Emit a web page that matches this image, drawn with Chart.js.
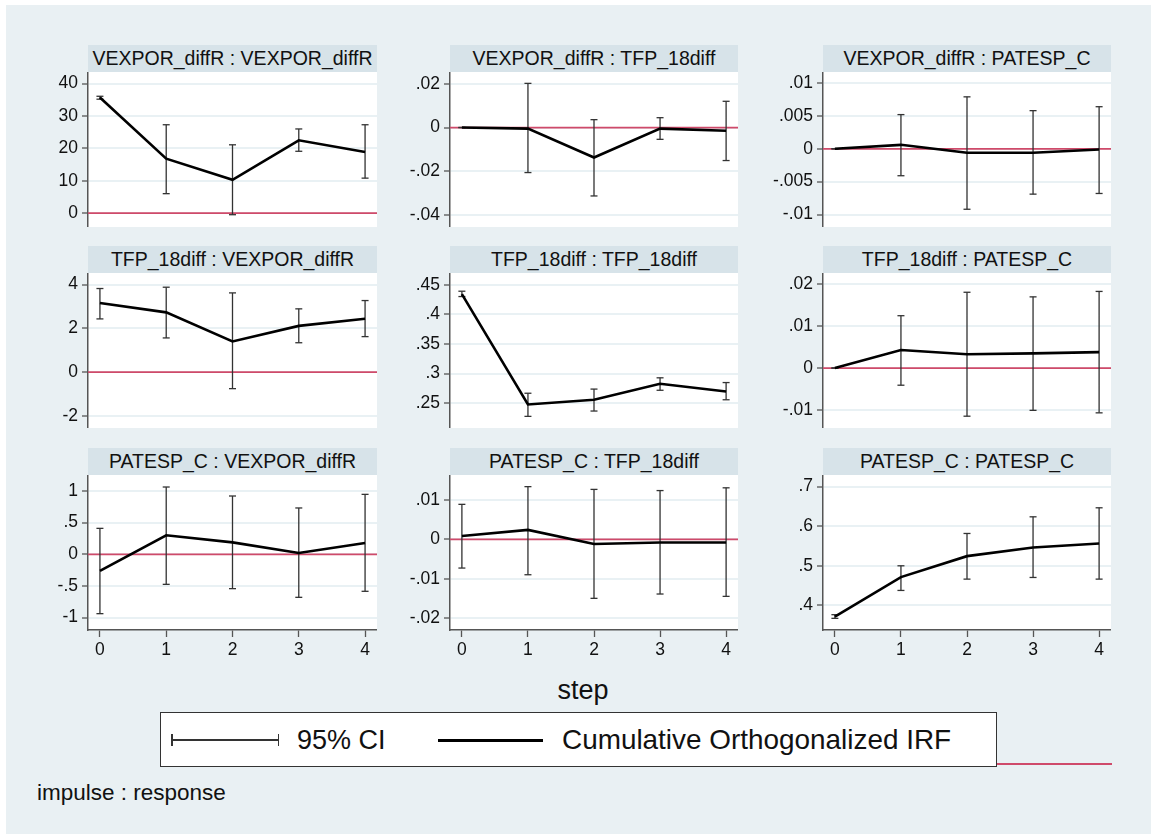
<!DOCTYPE html>
<html>
<head>
<meta charset="utf-8">
<script src="https://cdn.jsdelivr.net/npm/chart.js@4.4.1/dist/chart.umd.min.js"></script>
<style>
  html, body { margin: 0; padding: 0; }
  body {
    width: 1151px; height: 834px; position: relative; overflow: hidden;
    background: #e9f0f3;
    font-family: "Liberation Sans", Arial, Helvetica, sans-serif;
    color: #111;
  }
  .abs { position: absolute; }
  .strip-top { left: 0; top: 0; width: 1151px; height: 5px; background: #fff; }
  .strip-left { left: 0; top: 0; width: 6px; height: 834px; background: #fff; }
  .hdr {
    background: #d7e3e9; text-align: center; white-space: nowrap;
    font-size: 19.5px; height: 27px; line-height: 27px; color: #111;
  }
  canvas { position: absolute; }
  .xtitle { font-size: 27px; text-align: center; line-height: 30px; }
  .legend {
    background: #fff; border: 1px solid #333; box-sizing: border-box;
  }
  .leg-text { font-size: 27px; line-height: 30px; white-space: nowrap; }
  .note { font-size: 22.5px; line-height: 24px; white-space: nowrap; }
</style>
</head>
<body>
<div class="abs strip-top"></div>
<div class="abs strip-left"></div>
<div id="fig"></div>

<div class="abs xtitle" style="left:483px; top:675px; width:200px;">step</div>

<div class="abs legend" style="left:160px; top:712px; width:837px; height:55px;"></div>
<!-- CI key: capped horizontal bar -->
<div class="abs" style="left:171px; top:739px; width:108px; height:1.5px; background:#333;"></div>
<div class="abs" style="left:171px; top:734px; width:1.5px; height:12px; background:#333;"></div>
<div class="abs" style="left:277.5px; top:734px; width:1.5px; height:12px; background:#333;"></div>
<div class="abs leg-text" style="left:297px; top:725px;">95% CI</div>
<!-- IRF key: thick line -->
<div class="abs" style="left:438px; top:738.5px; width:105px; height:3px; background:#000;"></div>
<div class="abs leg-text" style="left:562px; top:725px; font-size:27.9px;">Cumulative Orthogonalized IRF</div>
<!-- zero-line key peeking out from behind the legend box -->
<div class="abs" style="left:997px; top:763px; width:115px; height:2px; background:#cf4a6a;"></div>

<div class="abs note" style="left:37px; top:781px;">impulse : response</div>

<script>
// Forecast horizon
const steps = [0, 1, 2, 3, 4];

// VEXPOR_diffR : VEXPOR_diffR
const irf_vv = [35.7, 16.8, 10.3, 22.5, 18.9];
const lo_vv  = [35.2, 6.0, -0.5, 19.1, 10.8];
const hi_vv  = [36.1, 27.3, 21.1, 26.0, 27.3];
const ticks_vv = ['0', '10', '20', '30', '40'];

// VEXPOR_diffR : TFP_18diff
const irf_vt = [0, -0.0005, -0.0137, -0.0005, -0.0015];
const lo_vt  = [0, -0.0206, -0.0313, -0.0054, -0.0151];
const hi_vt  = [0, 0.0202, 0.0036, 0.0045, 0.0120];
const ticks_vt = ['-.04', '-.02', '0', '.02'];

// VEXPOR_diffR : PATESP_C
const irf_vp = [0, 0.0006, -0.0006, -0.0006, -0.0001];
const lo_vp  = [0, -0.0041, -0.0092, -0.0069, -0.0068];
const hi_vp  = [0, 0.0052, 0.0079, 0.0058, 0.0064];
const ticks_vp = ['-.01', '-.005', '0', '.005', '.01'];

// TFP_18diff : VEXPOR_diffR
const irf_tv = [3.16, 2.73, 1.40, 2.11, 2.44];
const lo_tv  = [2.43, 1.56, -0.76, 1.34, 1.62];
const hi_tv  = [3.82, 3.88, 3.62, 2.89, 3.27];
const ticks_tv = ['-2', '0', '2', '4'];

// TFP_18diff : TFP_18diff
const irf_tt = [0.434, 0.248, 0.256, 0.283, 0.270];
const lo_tt  = [0.430, 0.228, 0.237, 0.272, 0.256];
const hi_tt  = [0.439, 0.267, 0.274, 0.293, 0.285];
const ticks_tt = ['.25', '.3', '.35', '.4', '.45'];

// TFP_18diff : PATESP_C
const irf_tp = [0, 0.0043, 0.0033, 0.0035, 0.0038];
const lo_tp  = [0, -0.0041, -0.0115, -0.0101, -0.0107];
const hi_tp  = [0, 0.0125, 0.0181, 0.0170, 0.0183];
const ticks_tp = ['-.01', '0', '.01', '.02'];

// PATESP_C : VEXPOR_diffR
const irf_pv = [-0.263, 0.300, 0.189, 0.021, 0.179];
const lo_pv  = [-0.937, -0.474, -0.542, -0.679, -0.584];
const hi_pv  = [0.410, 1.063, 0.921, 0.732, 0.947];
const ticks_pv = ['-1', '-.5', '0', '.5', '1'];

// PATESP_C : TFP_18diff
const irf_pt = [0.00085, 0.0024, -0.0012, -0.0008, -0.0008];
const lo_pt  = [-0.0073, -0.0090, -0.0150, -0.0139, -0.0145];
const hi_pt  = [0.0089, 0.0134, 0.0127, 0.0124, 0.0131];
const ticks_pt = ['-.02', '-.01', '0', '.01'];

// PATESP_C : PATESP_C
const irf_pp = [0.3714, 0.4714, 0.5244, 0.5463, 0.5564];
const lo_pp  = [0.3672, 0.4377, 0.4663, 0.4705, 0.4663];
const hi_pp  = [0.3764, 0.5000, 0.5817, 0.6238, 0.6466];
const ticks_pp = ['.4', '.5', '.6', '.7'];

// Panel grid, row by row (impulse : response)
const panels = [
  { title: 'VEXPOR_diffR : VEXPOR_diffR', irf: irf_vv, lo: lo_vv, hi: hi_vv, ticks: ticks_vv, ymin: -4.3,    ymax: 43.6 },
  { title: 'VEXPOR_diffR : TFP_18diff',   irf: irf_vt, lo: lo_vt, hi: hi_vt, ticks: ticks_vt, ymin: -0.0455, ymax: 0.0254 },
  { title: 'VEXPOR_diffR : PATESP_C',     irf: irf_vp, lo: lo_vp, hi: hi_vp, ticks: ticks_vp, ymin: -0.0119, ymax: 0.01168 },
  { title: 'TFP_18diff : VEXPOR_diffR',   irf: irf_tv, lo: lo_tv, hi: hi_tv, ticks: ticks_tv, ymin: -2.56,   ymax: 4.53 },
  { title: 'TFP_18diff : TFP_18diff',     irf: irf_tt, lo: lo_tt, hi: hi_tt, ticks: ticks_tt, ymin: 0.2084,  ymax: 0.4697 },
  { title: 'TFP_18diff : PATESP_C',       irf: irf_tp, lo: lo_tp, hi: hi_tp, ticks: ticks_tp, ymin: -0.01432, ymax: 0.0227 },
  { title: 'PATESP_C : VEXPOR_diffR',     irf: irf_pv, lo: lo_pv, hi: hi_pv, ticks: ticks_pv, ymin: -1.195,  ymax: 1.2526 },
  { title: 'PATESP_C : TFP_18diff',       irf: irf_pt, lo: lo_pt, hi: hi_pt, ticks: ticks_pt, ymin: -0.02305, ymax: 0.01636 },
  { title: 'PATESP_C : PATESP_C',         irf: irf_pp, lo: lo_pp, hi: hi_pp, ticks: ticks_pp, ymin: 0.3377,  ymax: 0.7295 }
];

// Page geometry of the 3x3 grid
const colAxisX = [88, 450, 823];
const colPlotW = [289, 288, 288];
const rowHdrTop = [45, 246, 448];
const HDR_H = 27;
const PLOT_H = 155;
const LABEL_W = 64;
const XAXIS_H = 40;
const XPAD = 0.18;

const AXIS_COL = '#555';
const GRID_COL = '#e9f1f4';
const ZERO_COL = '#cf4a6a';
const CI_COL = '#333';
const FONT = '"Liberation Sans", Arial, Helvetica, sans-serif';
const TICK_FONT = 17.5;

// white plot region behind each panel
const plotBg = {
  id: 'plotBg',
  beforeDraw(chart) {
    const a = chart.chartArea, c = chart.ctx;
    c.save();
    c.fillStyle = '#ffffff';
    c.fillRect(a.left, a.top, a.right - a.left, a.bottom - a.top);
    c.restore();
  }
};

const fig = document.getElementById('fig');

panels.forEach((p, k) => {
  const r = Math.floor(k / 3), col = k % 3;
  const ax = colAxisX[col], pw = colPlotW[col], top = rowHdrTop[r];
  const bottomRow = r === 2;
  const xAxisH = bottomRow ? XAXIS_H : 0;

  const hdr = document.createElement('div');
  hdr.className = 'abs hdr';
  hdr.style.left = ax + 'px';
  hdr.style.top = top + 'px';
  hdr.style.width = pw + 'px';
  hdr.textContent = p.title;
  fig.appendChild(hdr);

  const cv = document.createElement('canvas');
  const cw = LABEL_W + pw;
  const ch = PLOT_H + xAxisH;
  cv.width = cw; cv.height = ch;
  cv.style.left = (ax - LABEL_W) + 'px';
  cv.style.top = (top + HDR_H) + 'px';
  cv.style.width = cw + 'px'; cv.style.height = ch + 'px';
  fig.appendChild(cv);

  // CI whiskers: one segment per step, separated by gaps
  const ciPts = [];
  steps.forEach((s, i) => {
    ciPts.push({ x: s, y: p.lo[i] }, { x: s, y: p.hi[i] }, { x: s, y: null });
  });
  const irfPts = steps.map((s, i) => ({ x: s, y: p.irf[i] }));
  const xmin = steps[0] - XPAD, xmax = steps[steps.length - 1] + XPAD;
  const tickVals = p.ticks.map(t => parseFloat(t));

  new Chart(cv, {
    type: 'scatter',
    data: {
      datasets: [
        { label: 'Cumulative Orthogonalized IRF', data: irfPts, showLine: true,
          borderColor: '#000', borderWidth: 2.6, pointRadius: 0, order: 0 },
        { label: '95% CI', data: ciPts, showLine: true, spanGaps: false,
          borderColor: CI_COL, borderWidth: 1.3, pointStyle: 'line',
          pointRadius: 3.5, pointBorderWidth: 1.3, pointBorderColor: CI_COL, order: 1 },
        { label: 'zero', data: [{ x: xmin, y: 0 }, { x: xmax, y: 0 }], showLine: true,
          borderColor: ZERO_COL, borderWidth: 1.8, pointRadius: 0, order: 2 }
      ]
    },
    options: {
      responsive: false,
      maintainAspectRatio: false,
      devicePixelRatio: 1,
      animation: false,
      events: [],
      layout: { padding: 0, autoPadding: false },
      plugins: { legend: { display: false }, tooltip: { enabled: false }, title: { display: false } },
      elements: { line: { tension: 0 } },
      scales: {
        x: {
          type: 'linear', min: xmin, max: xmax,
          display: bottomRow,
          afterBuildTicks(s) { s.ticks = steps.map(v => ({ value: v })); },
          afterFit(s) { s.height = xAxisH; s.paddingLeft = 0; s.paddingRight = 0; },
          grid: { drawOnChartArea: false, drawTicks: true, tickLength: 7,
                  tickColor: AXIS_COL, tickWidth: 1.3 },
          border: { display: true, color: AXIS_COL, width: 1.5 },
          ticks: { color: '#111', font: { family: FONT, size: TICK_FONT }, padding: 3,
                   maxRotation: 0, callback: v => String(v) }
        },
        y: {
          type: 'linear', min: p.ymin, max: p.ymax,
          afterBuildTicks(s) { s.ticks = tickVals.map(v => ({ value: v })); },
          afterFit(s) { s.width = LABEL_W; s.paddingTop = 0; s.paddingBottom = 0; },
          grid: { color: GRID_COL, lineWidth: 2, drawTicks: true, tickLength: 6,
                  tickColor: AXIS_COL, tickWidth: 1.3 },
          border: { display: true, color: AXIS_COL, width: 1.5 },
          ticks: { color: '#111', font: { family: FONT, size: TICK_FONT }, padding: 4,
                   callback: (v, i) => p.ticks[i] }
        }
      }
    },
    plugins: [plotBg]
  });
});
</script>
</body>
</html>
